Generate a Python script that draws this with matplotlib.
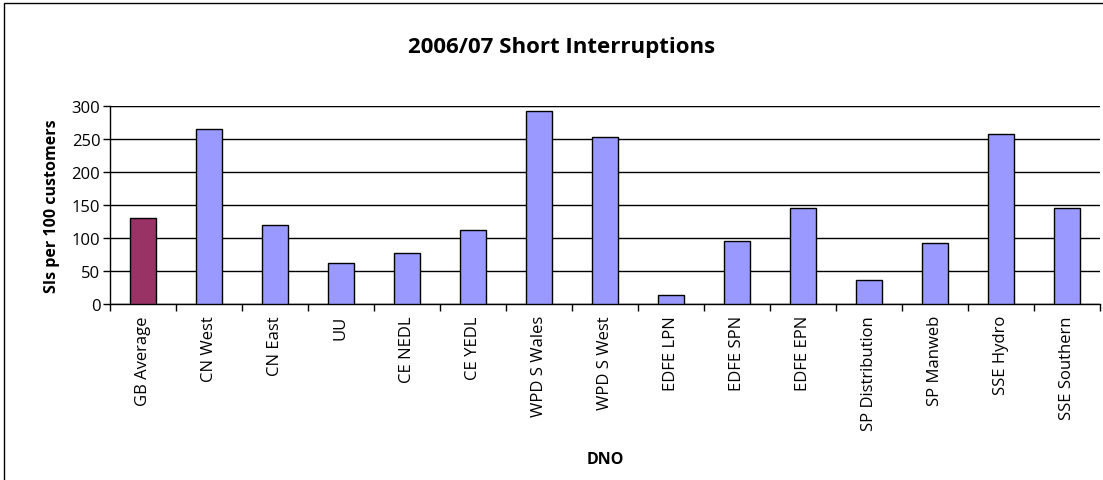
import matplotlib
matplotlib.use("Agg")
import matplotlib.pyplot as plt
from matplotlib.patches import Rectangle

dnos = ["GB Average", "CN West", "CN East", "UU", "CE NEDL", "CE YEDL",
        "WPD S Wales", "WPD S West", "EDFE LPN", "EDFE SPN", "EDFE EPN",
        "SP Distribution", "SP Manweb", "SSE Hydro", "SSE Southern"]
si_per_100 = [130, 265, 119, 62, 78, 112, 292, 253, 14, 95, 145, 37, 93, 257, 145]
y_ticks = [0, 50, 100, 150, 200, 250, 300]

plt.rcParams['font.family'] = ['Open Sans', 'DejaVu Sans']

W, H = 1103, 481
fig = plt.figure(figsize=(W / 100, H / 100), dpi=100)
ax = fig.add_axes([110 / W, 1 - 305 / H, 990 / W, 198 / H])

colors = ["#993366"] + ["#9999FF"] * (len(dnos) - 1)
x = list(range(len(dnos)))
ax.bar(x, si_per_100, width=0.4, color=colors, edgecolor="black", linewidth=1, zorder=3)

ax.set_xlim(-0.5, len(dnos) - 0.5)
ax.set_ylim(0, 300)
ax.set_yticks(y_ticks)
ax.tick_params(axis="y", labelsize=12, length=5, width=1, pad=2)
ax.yaxis.grid(True, color="black", linewidth=1, zorder=0)

# category labels between boundary ticks
ax.set_xticks([i - 0.5 for i in range(len(dnos) + 1)])
ax.set_xticklabels([])
ax.set_xticks(x, minor=True)
ax.set_xticklabels(dnos, minor=True, rotation=90, fontsize=12)
ax.tick_params(axis="x", which="major", length=5, width=1)
ax.tick_params(axis="x", which="minor", length=0, pad=8)

for side in ["top", "right"]:
    ax.spines[side].set_visible(False)
ax.spines["left"].set_linewidth(1)
ax.spines["bottom"].set_linewidth(1)
ax.axhline(300, color="#999999", linewidth=1, zorder=1)

ax.set_ylabel("SIs per 100 customers", fontsize=11.5, fontweight="bold", labelpad=8)
fig.text(605 / W, 1 - 460 / H, "DNO", ha="center", va="center", fontsize=11.5, fontweight="bold")
fig.text(562 / W, 1 - 47 / H, "2006/07 Short Interruptions", ha="center", va="center",
         fontsize=16, fontweight="bold")

fig.add_artist(Rectangle((4 / W, -0.1), 1.1, 1 - 4 / H + 0.1, transform=fig.transFigure,
                         fill=False, edgecolor="black", linewidth=1))

fig.savefig("out.png", dpi=100)
